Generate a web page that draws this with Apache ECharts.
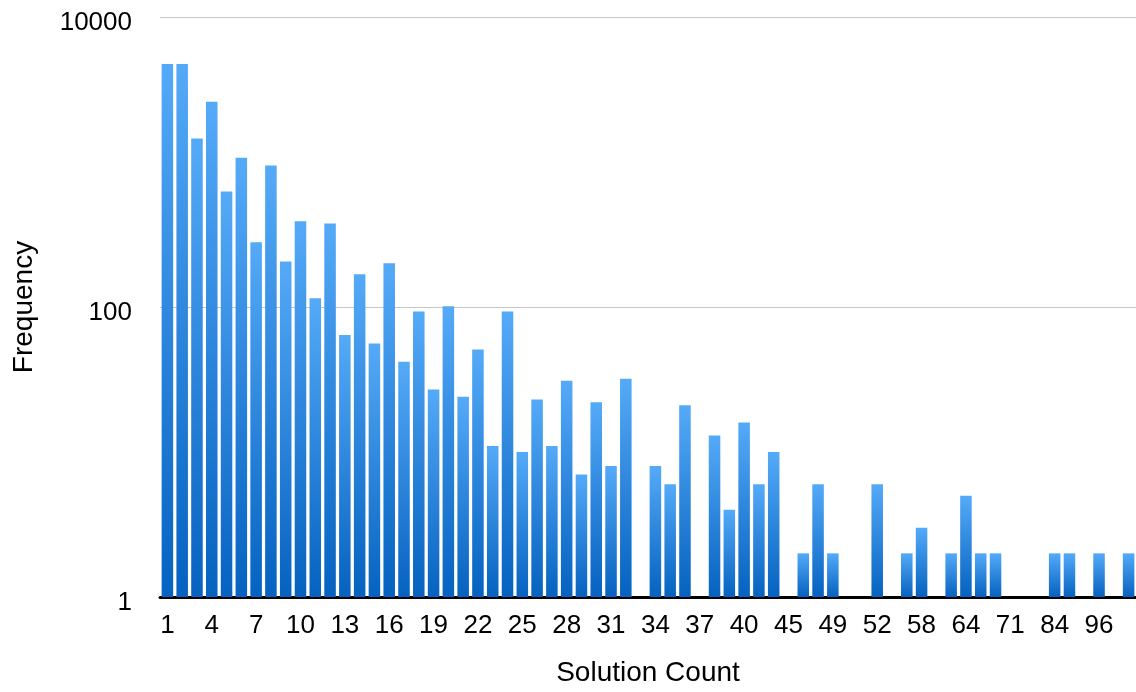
<!DOCTYPE html>
<html>
<head>
<meta charset="utf-8">
<script src="https://cdn.jsdelivr.net/npm/echarts@6/dist/echarts.min.js"></script>
<style>
  html, body { margin: 0; padding: 0; background: #fff; }
  #chart { width: 1136px; height: 692px; }
</style>
</head>
<body>
<div id="chart"></div>
<script>
// 解的个数 (只有部分会显示在轴上)
const solutionCounts = [
  '1', '2', '3', '4', '5', '6', '7', '8', '9', '10',
  '11', '12', '13', '14', '15', '16', '17', '18', '19', '20',
  '21', '22', '23', '24', '25', '26', '27', '28', '29', '30',
  '31', '32', '33', '34', '35', '36', '37', '38', '39', '40',
  '41', '42', '45', '46', '48', '49', '50', '51', '52', '54',
  '56', '58', '60', '62', '64', '66', '68', '71', '75', '80',
  '84', '88', '90', '96', '100', '120'
];

// 频次
const frequencies = [
  4750, 4750, 1450, 2600, 625, 1070, 280, 945, 206, 390,
  115, 377, 64, 168, 56, 200, 42, 93, 27, 101,
  24, 51, 11, 93, 10, 23, 11, 31, 7, 22,
  8, 32, 1, 8, 6, 21, 1, 13, 4, 16,
  6, 10, 1, 2, 6, 2, 1, 1, 6, 1,
  2, 3, 1, 2, 5, 2, 2, 1, 1, 1,
  2, 2, 1, 2, 1, 2
];

const yTicks = [1, 100, 10000];

let chartDom = document.getElementById('chart');
let mychart = echarts.init(chartDom);

let option = {
  animation: false,
  textStyle: { fontFamily: 'Liberation Sans, Arial, Helvetica, sans-serif' },
  grid: { left: 160, right: 0, top: 17, bottom: 94 },
  xAxis: {
    type: 'category',
    data: solutionCounts,
    name: 'Solution Count',
    nameLocation: 'middle',
    nameGap: 62,
    nameTextStyle: { fontSize: 28, color: '#000' },
    axisLine: { lineStyle: { color: '#000', width: 3 } },
    axisTick: { show: false },
    axisLabel: { interval: 2, fontSize: 26, color: '#000', margin: 16 }
  },
  yAxis: {
    type: 'log',
    logBase: 100,
    min: yTicks[0],
    max: yTicks[yTicks.length - 1],
    name: 'Frequency',
    nameLocation: 'middle',
    nameGap: 122,
    nameTextStyle: { fontSize: 28, color: '#000' },
    axisLine: { show: false },
    axisTick: { show: false },
    axisLabel: {
      fontSize: 26,
      color: '#000',
      margin: 28,
      verticalAlign: 'top',
      lineHeight: 12,
      formatter: function (value) {
        return String(Math.round(value)); // 不要千位分隔符
      }
    },
    splitLine: { lineStyle: { color: '#c6c6c6', width: 1 } }
  },
  series: [
    {
      type: 'bar',
      data: frequencies,
      barCategoryGap: '22%',
      itemStyle: {
        color: new echarts.graphic.LinearGradient(0, 0, 0, 1, [
          { offset: 0, color: '#55aaf8' },
          { offset: 1, color: '#0562c0' }
        ])
      }
    }
  ]
};
option && mychart.setOption(option);
</script>
</body>
</html>
